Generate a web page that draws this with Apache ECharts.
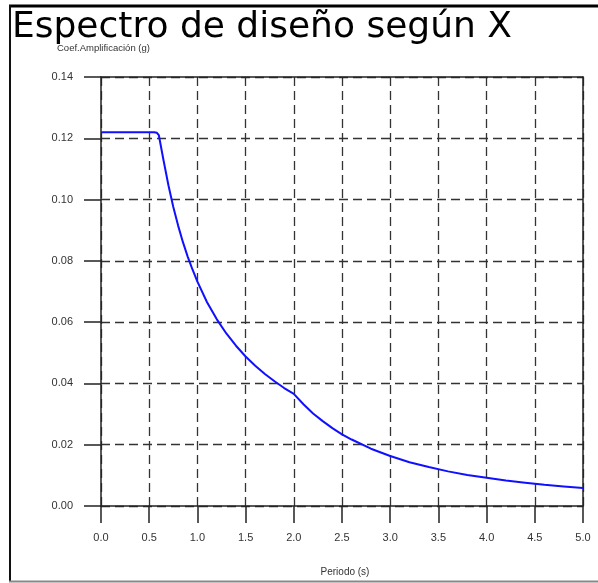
<!DOCTYPE html>
<html>
<head>
<meta charset="utf-8">
<script src="https://cdn.jsdelivr.net/npm/echarts@6/dist/echarts.min.js"></script>
<style>html,body{margin:0;padding:0;background:#fff}#c{width:598px;height:583px}</style>
</head>
<body>
<div id="c"></div>
<script>
var periods = [0, 0.55, 0.58, 0.6, 0.65, 0.7, 0.75, 0.8, 0.85, 0.9, 0.95, 1.0, 1.1, 1.2, 1.3, 1.4, 1.5, 1.6, 1.7, 1.8, 1.9, 2.0, 2.1, 2.2, 2.3, 2.4, 2.5, 2.6, 2.8, 3.0, 3.2, 3.4, 3.6, 3.8, 4.0, 4.2, 4.4, 4.6, 4.8, 5.0];
var coef = [0.122, 0.122, 0.1218, 0.121, 0.1126, 0.1046, 0.0976, 0.0915, 0.0861, 0.0813, 0.0771, 0.0732, 0.0665, 0.061, 0.0563, 0.0523, 0.0488, 0.0458, 0.0431, 0.0407, 0.0385, 0.0366, 0.0332, 0.0302, 0.0277, 0.0254, 0.0234, 0.0217, 0.0187, 0.0163, 0.0143, 0.0127, 0.0113, 0.0101, 0.0092, 0.0083, 0.0076, 0.0069, 0.0064, 0.0059];
var titleText = 'Espectro de diseño según X';
var yName = 'Coef.Amplificación (g)';
var xName = 'Periodo (s)';

var data = periods.map(function (t, i) { return [t, coef[i]]; });
var chart = echarts.init(document.getElementById('c'), null, {renderer: 'canvas'});
var axisCol = '#222';
var gridCol = '#333';
var labelStyle = {color: '#333', fontFamily: 'Liberation Sans, Arial', fontSize: 11};
chart.setOption({
  animation: false,
  backgroundColor: '#fff',
  grid: {left: 101, right: 15, top: 77, bottom: 77, containLabel: false},
  xAxis: [{
    type: 'value', min: 0, max: 5, interval: 0.5, position: 'bottom',
    axisLine: {show: true, onZero: false, lineStyle: {color: axisCol, width: 1.5}},
    axisTick: {show: true, inside: false, length: 17, lineStyle: {color: axisCol, width: 1.5}},
    axisLabel: Object.assign({margin: 26, formatter: function (v) { return v.toFixed(1); }}, labelStyle),
    splitLine: {show: true, lineStyle: {color: gridCol, width: 1.3, type: [9, 5]}}
  }, {
    type: 'value', min: 0, max: 5, position: 'top',
    axisLine: {show: true, onZero: false, lineStyle: {color: axisCol, width: 1.5}},
    axisTick: {show: false}, axisLabel: {show: false}, splitLine: {show: false}
  }],
  yAxis: [{
    type: 'value', min: 0, max: 0.14, interval: 0.02, position: 'left',
    axisLine: {show: true, onZero: false, lineStyle: {color: axisCol, width: 1.5}},
    axisTick: {show: true, inside: false, length: 17, lineStyle: {color: axisCol, width: 1.5}},
    axisLabel: Object.assign({margin: 28, formatter: function (v) { return v.toFixed(2); }}, labelStyle),
    splitLine: {show: true, lineStyle: {color: gridCol, width: 1.3, type: [9, 5]}}
  }, {
    type: 'value', min: 0, max: 0.14, position: 'right',
    axisLine: {show: true, onZero: false, lineStyle: {color: axisCol, width: 1.5}},
    axisTick: {show: false}, axisLabel: {show: false}, splitLine: {show: false}
  }],
  series: [{
    type: 'line', data: data, showSymbol: false, symbol: 'none', smooth: false,
    lineStyle: {color: '#1010ff', width: 2}, z: 5
  }],
  graphic: [
    {type: 'line', shape: {x1: 9, y1: 6, x2: 598, y2: 6}, style: {stroke: '#000', lineWidth: 3}},
    {type: 'line', shape: {x1: 10, y1: 5, x2: 10, y2: 581}, style: {stroke: '#111', lineWidth: 2}},
    {type: 'line', shape: {x1: 9, y1: 581.5, x2: 598, y2: 581.5}, style: {stroke: '#888', lineWidth: 2}},
    {type: 'text', style: {x: 12, y: 10, text: titleText, fill: '#000', font: '36px "DejaVu Sans"', textAlign: 'left', textVerticalAlign: 'top'}},
    {type: 'text', style: {x: 57, y: 48, text: yName, fill: '#333', font: '9.5px "Liberation Sans", Arial', textAlign: 'left', textVerticalAlign: 'middle'}},
    {type: 'text', style: {x: 345, y: 572, text: xName, fill: '#333', font: '10px "Liberation Sans", Arial', textAlign: 'center', textVerticalAlign: 'middle'}}
  ]
});
</script>
</body>
</html>
